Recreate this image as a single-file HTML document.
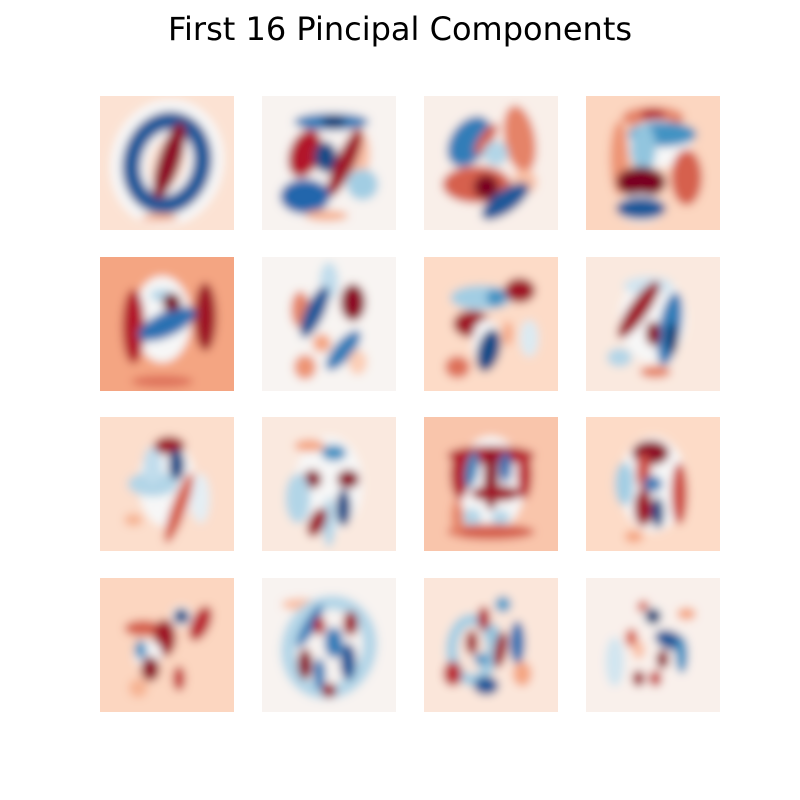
<!DOCTYPE html>
<html><head><meta charset="utf-8"><style>
body{margin:0;background:#fff;}
#wrap{position:relative;width:800px;height:800px;overflow:hidden;}
#title{position:absolute;left:0;top:10px;width:800px;text-align:center;font-family:"DejaVu Sans","Liberation Sans",sans-serif;font-size:32px;color:#000;}
</style></head><body>
<div id="wrap">
<div id="title">First 16 Pincipal Components</div>
<svg id="fig" width="800" height="800" style="position:absolute;left:0;top:0"></svg>
</div>
<script>
// background level of each component (positive = red, negative = blue)
const backgrounds = [0.15,0.03,0.06,0.22, 0.4,0.02,0.2,0.1, 0.18,0.1,0.28,0.2, 0.22,0.03,0.12,0.05];
// blobs per component: [cx, cy, rx, ry, rotation, value, ringWidth] in 28x28 pixel units
const comp0 = [[14,14,7.5,9,15,0,6.5],[14,14,7,8.5,15,-0.85,3.2],[14.5,13.5,1.8,6.5,18,0.9,0],[12.5,25.5,3,0.7,0,0.35,0]];
const comp1 = [[14.5,5.4,6,1.4,0,-0.7,0],[15,5.4,2,1,0,-0.95,0],[20,12,2,4,0,0.3,0],[9,12,2.5,4,20,0.8,0],[13.3,12.8,1.8,2.5,0,-0.9,0],[17.3,14,1.5,6,25,0.85,0],[9,21,4,2.8,0,-0.8,0],[21,18.5,2.5,2.5,0,-0.35,0],[13.5,25,3.5,0.9,0,0.35,0]];
const comp2 = [[9.5,9.5,3,4.5,35,-0.7,0],[13,9,1,3,35,0.6,0],[20,9,2.5,5.5,-10,0.5,0],[15,12,2,2,0,-0.3,0],[11,18.5,5.5,3,0,0.6,0],[13,19,2,2,0,0.95,0],[21,18,2,2,0,0.3,0],[17,22,4.5,1.8,-35,-0.85,0]];
const comp3 = [[14,4.5,5,1.8,0,0.5,0],[14,4,2,1,0,0.8,0],[15,10,7,5,0,0,0],[16,8,5.5,2,0,-0.6,0],[12,11,2,4,0,-0.4,0],[7,13,1.5,6,0,0.45,0],[11.5,18,4,2.5,0,0.95,0],[21,17,2.5,4.5,0,0.6,0],[11.5,23.5,5,3,0,0,0],[11.5,23.5,4,1.8,0,-0.85,0]];
const comp4 = [[13,13,6,9,0,0,0],[7,14.5,1.8,6,0,0.8,0],[22,12.5,1.8,5.5,0,0.85,0],[13,8,2,1,0,-0.3,0],[14,14,5,2,-25,-0.75,0],[15,9.5,1.5,1.5,0,0.95,0],[13,26,5,1,0,0.55,0]];
const comp5 = [[14,5,1.5,3,0,-0.25,0],[8,11,1.5,3,0,0.5,0],[11,11.5,1.5,4.5,25,-0.85,0],[19,9.5,2,3,0,0.9,0],[12.5,18,1.5,1.5,0,0.4,0],[17,19.5,1.5,4,40,-0.7,0],[9,23,1.8,2,0,0.45,0],[20,22,1.5,2,0,0.25,0]];
const comp6 = [[12,8.5,5,2,0,-0.35,0],[15,8.5,1.5,1.5,0,-0.6,0],[20,7,2.5,2,0,0.85,0],[10,14,3,2.2,0,0.85,0],[13,18,3,5,0,0,0],[13.5,19.5,1.8,3.5,15,-0.9,0],[7,23,2,1.8,0,0.55,0],[17.5,16,0.8,2,0,0.4,0],[22,17,1.5,3,0,-0.15,0]];
const comp7 = [[14,13,7,9,0,0,0],[13,6,4,1.5,0,-0.2,0],[11,11,1.5,5.5,35,0.85,0],[17.5,15,1.8,6,10,-0.7,0],[18,17,1,2.5,0,-0.95,0],[14,16,1.2,2,0,0.9,0],[7,21,2,1.5,0,-0.3,0],[14.5,24,2.5,1,0,0.5,0]];
const comp8 = [[14,14,6,9,0,0,0],[11,14,4,2,0,-0.3,0],[11,10,1.5,3,0,-0.25,0],[14.5,6,2.5,1.5,0,0.85,0],[16,10,1.3,2.5,0,-0.9,0],[16.5,19,1.2,6,20,0.6,0],[7,21.5,1.5,1,0,0.35,0],[21,17,1.5,4,0,-0.1,0]];
const comp9 = [[14,14,7,10,0,0,0],[10,6,2.5,1,0,0.4,0],[15,7.5,2,1.3,0,-0.6,0],[10.5,13,1.5,1.5,0,0.9,0],[18,13,1.8,1.5,0,0.9,0],[7.5,17,2,4,0,-0.3,0],[14,22,1,4,0,-0.3,0],[17,19,1.2,3,0,-0.9,0],[11.5,22,1.3,2.5,25,0.85,0]];
const comp10 = [[14,14,7,10,0,0,0],[14,8,7,1.5,0,0.8,0],[7.5,12,1.5,4,0,0.8,0],[21,12,1.2,4,0,0.75,0],[10,11,1,3,10,-0.65,0],[17,10.5,1,2.5,0,-0.75,0],[14,13,1.2,5,0,0.9,0],[15,16,4,1.3,0,0.85,0],[10,21,1.5,1.5,0,-0.3,0],[16,21,1.5,1.2,0,-0.3,0],[14,24,7,1.3,0,0.6,0],[7,21,1,3,0,0.5,0]];
const comp11 = [[14,14,7,10,0,0,0],[13.5,7.5,3,2,0,0.9,0],[8,14,1.5,3.5,0,-0.35,0],[12,11.5,1.2,3,0,0.65,0],[14,14,1.5,1.3,0,-0.7,0],[19.5,16,1.3,5,0,0.65,0],[12,19,1.5,3,0,0.85,0],[15,20,1,2.5,0,-0.9,0],[10,25,1.5,1,0,0.4,0]];
const comp12 = [[9,10.5,3,1.3,0,0.6,0],[13.5,12.5,1.8,3,0,0.85,0],[21,9.5,1.5,3,25,0.75,0],[17,8,2.3,2.3,0,0,0],[17,8,1.3,1.3,0,-0.9,0],[10,16,3,3,0,0,0],[8.5,15,1,1.5,0,-0.6,0],[10.5,19,1.5,2,0,0.9,0],[16.5,21,1,2,0,0.7,0],[8,23,1.5,1.5,0,0.35,0]];
const comp13 = [[8,5.5,3,1,0,0.3,0],[14,14.5,8,9,20,-0.3,2.5],[10,10,1,4,30,-0.7,0],[12,10,1,1.5,0,0.8,0],[18.5,9.5,1.2,2,0,0.85,0],[15,13.5,1.5,2.5,0,-0.7,0],[9,18,1.2,2.5,0,0.9,0],[12,20,1,2.5,0,-0.7,0],[18,17.5,1.3,3,0,-0.85,0],[14,23.5,1.2,1.2,0,0.85,0]];
const comp14 = [[10,15,4,6,0,-0.35,2],[16.5,5.5,1.3,1.3,0,-0.55,0],[12.5,8.5,1,2,0,0.8,0],[10,13.5,1,2,0,0.85,0],[14.5,11.5,1,1.5,0,-0.4,0],[16,15,1,3,10,0.85,0],[19.5,13.5,1.2,3.5,0,-0.75,0],[12,17,1.2,1,0,-0.6,0],[6,20,1.5,2,0,0.75,0],[13,22.5,2,1.5,0,-0.85,0],[20.5,20,1.5,2,0,0.4,0]];
const comp15 = [[12,6,1,1,0,0.6,0],[21,7.5,1.5,1,0,0.4,0],[14,8,2.2,2.2,0,0,0],[14,8,1.3,1.3,0,-0.95,0],[9.5,12.5,1,1.5,0,0.6,0],[11,15,1,1.5,0,0.3,0],[6,17.5,1.5,4,0,-0.2,0],[17.5,13,2.5,1.5,20,-0.85,0],[20,16,1,3,0,-0.6,0],[16,17,1,1.5,0,0.9,0],[11,21,1,1.3,0,0.85,0],[14.5,21,1,1.3,0,0.7,0]];
const components = [comp0,comp1,comp2,comp3,comp4,comp5,comp6,comp7,comp8,comp9,comp10,comp11,comp12,comp13,comp14,comp15];

const stops = ['#053061','#2166ac','#4393c3','#92c5de','#d1e5f0','#f7f7f7','#fddbc7','#f4a582','#d6604d','#b2182b','#67001f'];
function hex(c){return [1,3,5].map(i=>parseInt(c.substr(i,2),16));}
function colorOf(v){
  v=Math.max(-1,Math.min(1,v));
  const t=(v+1)/2*10, i=Math.min(9,Math.floor(t)), f=t-i;
  const a=hex(stops[i]), b=hex(stops[i+1]);
  return 'rgb('+a.map((x,k)=>Math.round(x+(b[k]-x)*f)).join(',')+')';
}
const NS='http://www.w3.org/2000/svg';
const fig=document.getElementById('fig');
const colX=[100,262,424,586], rowY=[96,257,417,578], size=134, unit=size/28;
const grow=1.3;
const defs=document.createElementNS(NS,'defs');
defs.innerHTML='<filter id="blur" x="-20%" y="-20%" width="140%" height="140%"><feGaussianBlur stdDeviation="0.95"/></filter>';
fig.appendChild(defs);
components.forEach((blobs,idx)=>{
  const r=Math.floor(idx/4), c=idx%4;
  const cp=document.createElementNS(NS,'clipPath');
  cp.setAttribute('id','clip'+idx);
  const cr=document.createElementNS(NS,'rect');
  cr.setAttribute('x',colX[c]);cr.setAttribute('y',rowY[r]);cr.setAttribute('width',size);cr.setAttribute('height',size);
  cp.appendChild(cr);defs.appendChild(cp);
  const g=document.createElementNS(NS,'g');
  
  
  g.setAttribute('clip-path','url(#clip'+idx+')');
  const inner=document.createElementNS(NS,'g');
  inner.setAttribute('transform','translate('+colX[c]+','+rowY[r]+') scale('+unit+')');
  inner.setAttribute('filter','url(#blur)');
  const bg=document.createElementNS(NS,'rect');
  
  
  bg.setAttribute('x',-4);bg.setAttribute('y',-4);bg.setAttribute('width',36);bg.setAttribute('height',36);
  bg.setAttribute('fill',colorOf(backgrounds[idx]));
  inner.appendChild(bg);
  blobs.forEach(b=>{
    const e=document.createElementNS(NS,'ellipse');
    
    
    const ring=b[6]>0;
    const k=ring?1.05:(b[5]===0?1.0:grow);
    e.setAttribute('cx',b[0]);e.setAttribute('cy',b[1]);e.setAttribute('rx',b[2]*k);e.setAttribute('ry',b[3]*k);
    e.setAttribute('transform','rotate('+b[4]+' '+b[0]+' '+b[1]+')');
    if(ring){e.setAttribute('fill','none');e.setAttribute('stroke',colorOf(b[5]));e.setAttribute('stroke-width',b[6]*1.2);}
    else e.setAttribute('fill',colorOf(b[5]));
    inner.appendChild(e);
  });
  g.appendChild(inner);fig.appendChild(g);
});
</script>
</body></html>
